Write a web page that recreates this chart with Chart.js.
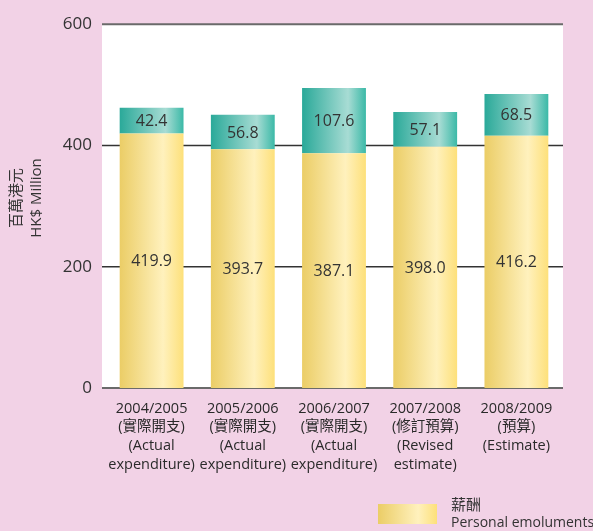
<!DOCTYPE html>
<html>
<head>
<meta charset="utf-8">
<script src="https://cdn.jsdelivr.net/npm/chart.js@4/dist/chart.umd.min.js"></script>
<style>
  body { margin: 0; background: #f2d2e6; }
  #wrap { width: 593px; height: 531px; }
</style>
</head>
<body>
<div id="wrap"><canvas id="myChart" width="593" height="531"></canvas></div>
<script>
const years = ['2004/2005', '2005/2006', '2006/2007', '2007/2008', '2008/2009']
const zhNotes = ['(實際開支)', '(實際開支)', '(實際開支)', '(修訂預算)', '(預算)']
const enNotes = [['(Actual', 'expenditure)'], ['(Actual', 'expenditure)'], ['(Actual', 'expenditure)'], ['(Revised', 'estimate)'], ['(Estimate)']]
const emoluments = [419.9, 393.7, 387.1, 398.0, 416.2]
const otherCharges = [42.4, 56.8, 107.6, 57.1, 68.5]
const yTicks = [0, 200, 400, 600]

const FONT = '"Open Sans", "Noto Sans CJK TC", sans-serif'
const BAR_PCT = 0.7

const labels = years.map((y, i) => [y, zhNotes[i], ...enNotes[i]])

// horizontal shading of each bar, built from the x scale
const barGradient = (stops) => (ctx) => {
  const chart = ctx.chart
  const xs = chart.scales.x
  if (!chart.chartArea || !xs || ctx.dataIndex === undefined) return stops[0][1]
  const cx = xs.getPixelForValue(ctx.dataIndex)
  const w = (xs.width / years.length) * BAR_PCT
  const g = chart.ctx.createLinearGradient(cx - w / 2, 0, cx + w / 2, 0)
  stops.forEach(s => g.addColorStop(s[0], s[1]))
  return g
}

const yellowStops = [[0, '#ebcd66'], [0.68, '#fff1bd'], [1, '#fde07a']]
const tealStops = [[0, '#2aa999'], [0.72, '#a8dcd4'], [1, '#3bb9a7']]

const pagePlugin = {
  id: 'page',
  beforeDraw(chart) {
    const { ctx, chartArea } = chart
    ctx.save()
    ctx.fillStyle = '#f2d2e6'
    ctx.fillRect(0, 0, chart.width, chart.height)
    ctx.fillStyle = '#ffffff'
    ctx.fillRect(102, chartArea.top, 461, chartArea.bottom - chartArea.top)
    // grid lines
    const ys = chart.scales.y
    yTicks.forEach(v => {
      const py = ys.getPixelForValue(v)
      ctx.beginPath()
      if (v === 0 || v === 600) {
        ctx.strokeStyle = '#6a6a6a'
        ctx.lineWidth = 2
      } else {
        ctx.strokeStyle = '#333333'
        ctx.lineWidth = 1.5
      }
      ctx.moveTo(102, py)
      ctx.lineTo(563, py)
      ctx.stroke()
    })
    // y axis title
    const cy = 198
    ctx.fillStyle = '#333333'
    ctx.font = '15px ' + FONT
    ctx.textAlign = 'center'
    ctx.textBaseline = 'middle'
    ctx.translate(17, cy)
    ctx.rotate(-Math.PI / 2)
    ctx.fillText('百萬港元', 0, 0)
    ctx.fillText('HK$ Million', 0, 20)
    ctx.restore()
  },
  afterDatasetsDraw(chart) {
    const { ctx } = chart
    ctx.save()
    ctx.fillStyle = '#333333'
    ctx.font = '16px ' + FONT
    ctx.textAlign = 'center'
    ctx.textBaseline = 'middle'
    chart.data.datasets.forEach((ds, di) => {
      const meta = chart.getDatasetMeta(di)
      meta.data.forEach((el, i) => {
        ctx.fillText(ds.data[i].toFixed(1), el.x, (el.y + el.base) / 2 + 1)
      })
    })
    // legend
    const g = ctx.createLinearGradient(378, 0, 437, 0)
    yellowStops.forEach(s => g.addColorStop(s[0], s[1]))
    ctx.fillStyle = g
    ctx.fillRect(378, 504, 59, 20)
    ctx.fillStyle = '#333333'
    ctx.textAlign = 'left'
    ctx.font = '15px ' + FONT
    ctx.fillText('薪酬', 451, 506)
    ctx.font = '14px ' + FONT
    ctx.fillText('Personal emoluments', 451, 523)
    ctx.restore()
  }
}

const config = {
  type: 'bar',
  data: {
    labels: labels,
    datasets: [
      {
        label: '薪酬 Personal emoluments',
        data: emoluments,
        backgroundColor: barGradient(yellowStops),
        barPercentage: BAR_PCT,
        categoryPercentage: 1
      },
      {
        label: 'Other',
        data: otherCharges,
        backgroundColor: barGradient(tealStops),
        barPercentage: BAR_PCT,
        categoryPercentage: 1
      }
    ]
  },
  options: {
    responsive: false,
    animation: false,
    layout: { padding: { top: 22, right: 31, bottom: 0, left: 0 } },
    plugins: {
      legend: { display: false },
      tooltip: { enabled: false }
    },
    scales: {
      x: {
        stacked: true,
        grid: { display: false, drawTicks: false },
        border: { display: false },
        ticks: {
          color: '#2a2a2a',
          font: { family: FONT, size: 14.5, lineHeight: 1.3 },
          padding: 11,
          maxRotation: 0,
          autoSkip: false
        },
        afterFit: (scale) => { scale.height = 143 }
      },
      y: {
        stacked: true,
        min: 0,
        max: 600,
        afterBuildTicks: (scale) => { scale.ticks = yTicks.map(v => ({ value: v })) },
        grid: { display: false, drawTicks: false },
        border: { display: false },
        ticks: {
          color: '#333333',
          font: { family: FONT, size: 17 },
          padding: 14
        },
        afterFit: (scale) => { scale.width = 106 }
      }
    }
  },
  plugins: [pagePlugin]
}

const myChart = new Chart(document.getElementById('myChart'), config)
</script>
</body>
</html>
